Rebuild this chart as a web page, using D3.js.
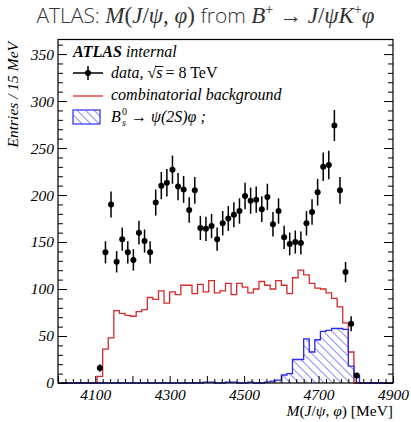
<!DOCTYPE html>
<html><head><meta charset="utf-8">
<script src="https://cdn.jsdelivr.net/npm/d3@7"></script>
<style>body{margin:0;background:#fff} svg{display:block}</style>
</head><body>
<svg id="c" width="411" height="422"></svg>
<script>
// ---- data ----
const binWidth = 15;
const binCenters = [4112.5,4127.5,4142.5,4157.5,4172.5,4187.5,4202.5,4217.5,4232.5,4247.5,
  4262.5,4277.5,4292.5,4307.5,4322.5,4337.5,4352.5,4367.5,4382.5,4397.5,
  4412.5,4427.5,4442.5,4457.5,4472.5,4487.5,4502.5,4517.5,4532.5,4547.5,
  4562.5,4577.5,4592.5,4607.5,4622.5,4637.5,4652.5,4667.5,4682.5,4697.5,
  4712.5,4727.5,4742.5,4757.5,4772.5,4787.5,4802.5];
const dataCounts = [16,139,190,129,153,139,131,160,151,139,
  192,210,213,227,209,206,184,205,165,164,
  167,153,170,175,179,183,199,194,195,185,
  198,169,183,155,148,150,149,170,182,203,
  230,232,274,205,118,63,8];
const bkgCounts = [7,36,48,77,74,72,71,76,78,91,
  89,98,85,97,94,104,104,95,105,97,
  109,96,98,106,94,106,102,96,100,108,
  104,100,109,104,95,112,120,115,106,101,
  100,96,90,81,64,33,0];
const sigCounts = [0,0,0,0,0,0,0,0,0,0,
  0,0,0,0,0,0,0,0,0,1,
  1,0,0,1,1,0,0,1,0,0,
  1,2,3,8.5,10,25,25,47,33,46,
  55,56,58,58,57,18,8];
const xMajorTicks = [4000,4100,4200,4300,4400,4500,4600,4700,4800,4900];
const xLabelTicks = [4100,4300,4500,4700,4900];
const yLabelTicks = [0,50,100,150,200,250,300,350];

// ---- layout ----
const svg = d3.select("#c");
const L = 58, R = 393, T = 39.5, B = 383;
const x = d3.scaleLinear().domain([4000, 4900]).range([L, R]);
const y = d3.scaleLinear().domain([0, 365.5]).range([B, T]);
const serif = "'Liberation Serif', 'DejaVu Serif', serif";
const sans = "'Open Sans', 'Noto Sans', sans-serif";
const RED = "#d42a2a", BLUE = "#2a2af0";

// hatch pattern
const defs = svg.append("defs");
defs.append("pattern").attr("id", "hatch").attr("patternUnits", "userSpaceOnUse")
  .attr("width", 6).attr("height", 6).attr("patternTransform", "rotate(-45)")
  .append("line").attr("x1", 0).attr("y1", 0).attr("x2", 0).attr("y2", 6)
  .attr("stroke", BLUE).attr("stroke-width", 1.1);

// histograms
function histPts(vals) {
  const pts = [[4000, 0]];
  binCenters.forEach((c, i) => pts.push([c - binWidth / 2, vals[i]]));
  pts.push([binCenters[binCenters.length - 1] + binWidth / 2, 0]);
  pts.push([4900, 0]);
  return pts;
}
const stepLine = d3.line().x(d => x(d[0])).y(d => y(d[1])).curve(d3.curveStepAfter);
const stepArea = d3.area().x(d => x(d[0])).y0(y(0)).y1(d => y(d[1])).curve(d3.curveStepAfter);

svg.append("path").attr("d", stepLine(histPts(bkgCounts)))
  .attr("fill", "none").attr("stroke", RED).attr("stroke-width", 1.3);
svg.append("path").attr("d", stepArea(histPts(sigCounts)))
  .attr("fill", "url(#hatch)").attr("stroke", "none");
svg.append("path").attr("d", stepLine(histPts(sigCounts)))
  .attr("fill", "none").attr("stroke", BLUE).attr("stroke-width", 1.3);

// data points
const pts = svg.append("g");
binCenters.forEach((c, i) => {
  const v = dataCounts[i], e = Math.sqrt(v);
  pts.append("line").attr("x1", x(c)).attr("x2", x(c))
    .attr("y1", y(v + e)).attr("y2", y(Math.max(0, v - e)))
    .attr("stroke", "#000").attr("stroke-width", 1.5);
  pts.append("circle").attr("cx", x(c)).attr("cy", y(v)).attr("r", 3).attr("fill", "#000");
});

// frame
svg.append("rect").attr("x", L).attr("y", T).attr("width", R - L).attr("height", B - T)
  .attr("fill", "none").attr("stroke", "#000").attr("stroke-width", 1.2);

// axes
const xMinor = d3.range(4000, 4901, 20).filter(v => !xMajorTicks.includes(v));
svg.append("g").attr("transform", `translate(0,${B})`)
  .call(d3.axisBottom(x).tickValues(xMinor).tickSize(-4).tickFormat(""))
  .call(g => g.select(".domain").remove());
svg.append("g").attr("transform", `translate(0,${B})`)
  .call(d3.axisBottom(x).tickValues(xMajorTicks).tickSize(-7).tickPadding(6)
    .tickFormat(d => xLabelTicks.includes(d) ? d : ""))
  .call(g => g.select(".domain").remove())
  .call(g => g.selectAll("text").attr("font-family", serif).attr("font-style", "italic")
    .attr("font-size", 15.5).attr("fill", "#000"));

const yMinor = d3.range(0, 361, 10).filter(v => v % 50 !== 0);
svg.append("g").attr("transform", `translate(${L},0)`)
  .call(d3.axisLeft(y).tickValues(yMinor).tickSize(-5).tickFormat(""))
  .call(g => g.select(".domain").remove());
svg.append("g").attr("transform", `translate(${L},0)`)
  .call(d3.axisLeft(y).tickValues(yLabelTicks).tickSize(-9).tickPadding(4).tickFormat(d3.format("d")))
  .call(g => g.select(".domain").remove())
  .call(g => g.selectAll("text").attr("font-family", serif).attr("font-style", "italic")
    .attr("font-size", 15.5).attr("fill", "#000"));
svg.append("g").attr("transform", `translate(${R},0)`)
  .call(d3.axisRight(y).tickValues(yMinor).tickSize(-5).tickFormat(""))
  .call(g => g.select(".domain").remove());
svg.append("g").attr("transform", `translate(${R},0)`)
  .call(d3.axisRight(y).tickValues(yLabelTicks).tickSize(-9).tickFormat(""))
  .call(g => g.select(".domain").remove());

// axis titles
const xt = svg.append("text").attr("x", R).attr("y", 416).attr("text-anchor", "end")
  .attr("font-family", serif).attr("font-size", 15.5).attr("fill", "#000");
[["M","italic"],["(","normal"],["J","italic"],["/","normal"],["ψ","italic"],[", ","normal"],["φ","italic"],[") [MeV]","normal"]]
  .forEach(([t, s]) => xt.append("tspan").attr("font-style", s).text(t));
svg.append("text").attr("transform", "translate(18,42) rotate(-90)").attr("text-anchor", "end")
  .attr("font-family", serif).attr("font-style", "italic").attr("font-size", 15.5).attr("fill", "#000")
  .text("Entries / 15 MeV");

// title
const tt = svg.append("text").attr("x", 205.5).attr("y", 23).attr("text-anchor", "middle")
  .attr("font-size", 23).attr("fill", "#333");
[["ATLAS: ", sans, "normal"], ["M", serif, "italic"], ["(", serif, "normal"], ["J", serif, "italic"],
 ["/", serif, "normal"], ["ψ", serif, "italic"], [", ", serif, "normal"], ["φ", serif, "italic"],
 [")", serif, "normal"], [" from ", sans, "normal"], ["B", serif, "italic"]]
  .forEach(([t, f, s]) => tt.append("tspan").attr("font-family", f).attr("font-style", s)
    .attr("font-size", f === sans ? 21 : 23)
    .attr("font-weight", f === sans ? 300 : 400).text(t));
tt.append("tspan").attr("font-family", serif).attr("font-size", 14).attr("dy", -9).text("+");
tt.append("tspan").attr("font-family", serif).attr("dy", 9).text(" → ");
[["J","italic"],["/","normal"],["ψ","italic"],["K","italic"]].forEach(([t, s]) =>
  tt.append("tspan").attr("font-family", serif).attr("font-style", s).text(t));
tt.append("tspan").attr("font-family", serif).attr("font-size", 14).attr("dy", -9).text("+");
tt.append("tspan").attr("font-family", serif).attr("font-style", "italic").attr("dy", 9).text("φ");

// legend
const FS = 16;
const lg = svg.append("g").attr("font-family", serif).attr("font-style", "italic")
  .attr("font-size", FS).attr("fill", "#000");
const lt = lg.append("text").attr("x", 73).attr("y", 57);
lt.append("tspan").attr("font-weight", "bold").text("ATLAS");
lt.append("tspan").text(" internal");
// data entry
lg.append("line").attr("x1", 73).attr("x2", 103).attr("y1", 73).attr("y2", 73).attr("stroke", "#000").attr("stroke-width", 1.5);
lg.append("line").attr("x1", 88).attr("x2", 88).attr("y1", 66).attr("y2", 80).attr("stroke", "#000").attr("stroke-width", 1.5);
lg.append("circle").attr("cx", 88).attr("cy", 73).attr("r", 3).attr("fill", "#000");
const d1 = lg.append("text").attr("x", 111).attr("y", 78).text("data, √");
const w1 = d1.node().getComputedTextLength();
const d2 = lg.append("text").attr("x", 111 + w1).attr("y", 78).text("s");
const w2 = d2.node().getComputedTextLength();
lg.append("line").attr("x1", 111 + w1 - 1).attr("x2", 111 + w1 + w2 + 1).attr("y1", 66.5).attr("y2", 66.5)
  .attr("stroke", "#000").attr("stroke-width", 0.9);
lg.append("text").attr("x", 111 + w1 + w2 + 3).attr("y", 78).attr("font-style", "normal").text(" = 8 TeV");
// bkg entry
lg.append("line").attr("x1", 73).attr("x2", 103).attr("y1", 96).attr("y2", 96).attr("stroke", RED).attr("stroke-width", 1.3);
lg.append("text").attr("x", 111).attr("y", 100).text("combinatorial background");
// signal entry
lg.append("rect").attr("x", 73).attr("y", 110).attr("width", 27).attr("height", 14)
  .attr("fill", "url(#hatch)").attr("stroke", BLUE).attr("stroke-width", 1.2);
lg.append("text").attr("x", 111).attr("y", 122).text("B");
lg.append("text").attr("x", 122).attr("y", 115).attr("font-size", 10).attr("font-style", "normal").text("0");
lg.append("text").attr("x", 122).attr("y", 126).attr("font-size", 10).text("s");
lg.append("text").attr("x", 131).attr("y", 122).text("→ ψ(2S)φ ;");
</script>
</body></html>
